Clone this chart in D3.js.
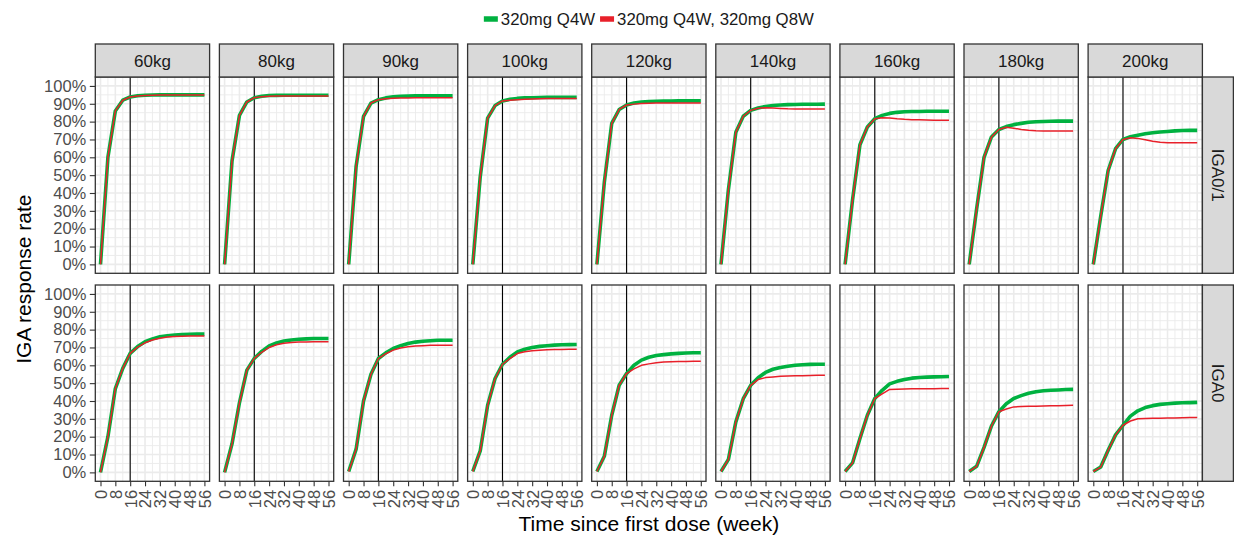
<!DOCTYPE html>
<html>
<head>
<meta charset="utf-8">
<script src="https://cdn.jsdelivr.net/npm/d3@7"></script>
<style>
  body { margin: 0; background: #ffffff; }
  svg { display: block; font-family: "Liberation Sans", Arial, sans-serif; }
</style>
</head>
<body>
<svg id="chart" width="1234" height="542"></svg>
<script>
// ---- data ----
const weeks = [0, 4, 8, 12, 16, 20, 24, 28, 32, 36, 40, 44, 48, 52, 56];
const weightGroups = ["60kg", "80kg", "90kg", "100kg", "120kg", "140kg", "160kg", "180kg", "200kg"];
const responseRows = ["IGA0/1", "IGA0"];
const regimens = ["320mg Q4W", "320mg Q4W, 320mg Q8W"];
const regimenColors = ["#00B140", "#E8202A"];
const xTickValues = [0, 8, 16, 24, 32, 40, 48, 56];
const yTickValues = [0, 10, 20, 30, 40, 50, 60, 70, 80, 90, 100];
const switchWeek = 16;

// IGA 0/1 response rate (%), one series per weight group
const iga01Q4W = [
  [0, 60, 86, 92, 93.8, 94.5, 94.8, 94.9, 95, 95, 95, 95, 95, 95, 95],
  [0, 58, 83.5, 91, 93.4, 94.2, 94.6, 94.7, 94.8, 94.8, 94.8, 94.8, 94.8, 94.8, 94.8],
  [0, 55, 83, 90.4, 92.3, 93.3, 93.9, 94.2, 94.3, 94.4, 94.4, 94.4, 94.4, 94.4, 94.4],
  [0, 49, 82, 89, 91.6, 92.5, 93, 93.3, 93.4, 93.5, 93.6, 93.6, 93.6, 93.6, 93.6],
  [0, 46, 79, 86.8, 89.3, 90.4, 91, 91.3, 91.4, 91.5, 91.5, 91.6, 91.6, 91.6, 91.6],
  [0, 42, 74, 83, 86.3, 87.6, 88.5, 89, 89.3, 89.5, 89.6, 89.7, 89.7, 89.7, 89.8],
  [0, 36, 67, 77, 81.6, 83.5, 84.6, 85.2, 85.5, 85.7, 85.7, 85.8, 85.8, 85.8, 85.8],
  [0, 31, 60, 71.4, 75.6, 77.2, 78.3, 79, 79.6, 79.9, 80.1, 80.2, 80.3, 80.3, 80.3],
  [0, 27, 52.6, 64.8, 70, 71.5, 72.4, 73.2, 73.8, 74.2, 74.5, 74.8, 75, 75.1, 75.1]
];
const iga01Q8W = [
  [0, 60, 86, 92, 93.8, 94.4, 94.7, 94.8, 94.9, 94.9, 94.9, 94.9, 94.9, 94.9, 94.9],
  [0, 58, 83.5, 91, 93.4, 94, 94.2, 94.3, 94.3, 94.3, 94.3, 94.3, 94.3, 94.3, 94.3],
  [0, 55, 83, 90.4, 92.3, 92.8, 93.1, 93.2, 93.3, 93.4, 93.4, 93.4, 93.4, 93.4, 93.4],
  [0, 49, 82, 89, 91.6, 92, 92.3, 92.5, 92.7, 92.8, 92.9, 92.9, 92.9, 92.9, 92.9],
  [0, 46, 79, 86.8, 89.3, 89.8, 90.2, 90.3, 90.4, 90.4, 90.4, 90.4, 90.4, 90.4, 90.4],
  [0, 42, 74, 83, 86.3, 87.5, 87.8, 87.6, 87.4, 87.2, 87.1, 87, 87, 87, 87],
  [0, 36, 67, 77, 81.6, 82.2, 82, 81.6, 81.3, 81.1, 81, 80.9, 80.8, 80.8, 80.8],
  [0, 31, 60, 71.4, 75.6, 76.8, 76.3, 75.6, 75.1, 74.9, 74.8, 74.7, 74.7, 74.7, 74.7],
  [0, 27, 52.6, 64.8, 70, 71, 70.6, 69.8, 69, 68.4, 68.1, 68.1, 68.1, 68.1, 68.1]
];

// IGA 0 response rate (%), one series per weight group
const iga0Q4W = [
  [0, 20, 47, 58.3, 66.7, 70.5, 73.2, 74.8, 76, 76.6, 77, 77.3, 77.4, 77.5, 77.5],
  [0, 16, 39, 57.3, 63.9, 67.8, 70.8, 72.5, 73.6, 74.2, 74.6, 74.8, 75, 75, 75],
  [0.5, 13, 40, 55, 63.8, 67, 69.4, 71, 72.2, 73, 73.5, 73.8, 74, 74, 74],
  [0.5, 12, 37.6, 52.6, 60.6, 64.5, 67.5, 69, 70, 70.6, 71, 71.3, 71.5, 71.6, 71.7],
  [0.5, 9, 32, 48.8, 55.4, 60, 62.9, 64.5, 65.5, 66, 66.4, 66.7, 66.9, 67, 67],
  [0.5, 7.3, 28.3, 41.3, 48.8, 53, 56, 57.8, 58.8, 59.5, 60, 60.3, 60.5, 60.6, 60.6],
  [0.5, 5.3, 19, 32, 41.4, 46, 49.6, 51, 52, 52.8, 53.2, 53.4, 53.5, 53.6, 53.7],
  [0.5, 3.4, 14, 26, 34, 38.5, 41.4, 43, 44.3, 45.2, 45.7, 46, 46.2, 46.4, 46.5],
  [0.5, 3, 12.4, 21, 26.4, 31.5, 34.5, 36.3, 37.4, 38.1, 38.5, 38.8, 39, 39.1, 39.2]
];
const iga0Q8W = [
  [0, 20, 47, 58.3, 66.7, 70.2, 72.6, 74.2, 75.2, 75.8, 76.1, 76.3, 76.4, 76.4, 76.4],
  [0, 16, 39, 57.3, 63.9, 67.3, 70, 71.5, 72.4, 72.8, 73, 73.1, 73.2, 73.2, 73.2],
  [0.5, 13, 40, 55, 63.8, 66.5, 68.5, 69.7, 70.4, 70.8, 71, 71.2, 71.3, 71.3, 71.3],
  [0.5, 12, 37.6, 52.6, 60.6, 63.8, 66.6, 67.6, 68.2, 68.5, 68.7, 68.8, 68.9, 69, 69],
  [0.5, 9, 32, 48.8, 55.4, 58, 60, 60.8, 61.4, 61.8, 62, 62.1, 62.2, 62.3, 62.3],
  [0.5, 7.3, 28.3, 41.3, 48.8, 52, 53.1, 53.5, 53.8, 54, 54.1, 54.2, 54.3, 54.4, 54.4],
  [0.5, 5.3, 19, 32, 41.4, 44, 46.5, 46.6, 46.7, 46.8, 46.8, 46.9, 46.9, 47, 47],
  [0.5, 3.4, 14, 26, 34, 35.5, 36.7, 36.9, 37, 37.1, 37.2, 37.3, 37.4, 37.5, 37.6],
  [0.5, 3, 12.4, 21, 26.4, 28.8, 30, 30.2, 30.3, 30.4, 30.5, 30.5, 30.6, 30.7, 30.7]
];

const rowSeries = [[iga01Q4W, iga01Q8W], [iga0Q4W, iga0Q8W]];

// ---- layout ----
const panelLeft0 = 95.3, panelStep = 124.1, panelW = 114.3;
const rowTops = [77, 285], panelH = 196.3;
const stripH = 33, stripW = 31;
const tickFont = 16.5, stripFont = 17, titleFont = 21, legendFont = 16.8;
const lineWidths = [3.6, 1.5];

const svg = d3.select("#chart");

// padded scales (5% expansion on each side)
const xSpan = d3.max(weeks) - d3.min(weeks);
const x = d3.scaleLinear()
  .domain([d3.min(weeks) - 0.05 * xSpan, d3.max(weeks) + 0.05 * xSpan])
  .range([0, panelW]);
const y = d3.scaleLinear()
  .domain([-5, 105])
  .range([panelH, 0]);

const xMinor = d3.range(4, 56, 8);
const yMinor = d3.range(5, 100, 10);

const line = d3.line()
  .x((d, i) => x(weeks[i]))
  .y(d => y(d));

responseRows.forEach((rowName, r) => {
  weightGroups.forEach((group, c) => {
    const left = panelLeft0 + c * panelStep;
    const top = rowTops[r];
    const g = svg.append("g").attr("transform", `translate(${left},${top})`);

    g.append("rect").attr("width", panelW).attr("height", panelH).attr("fill", "#ffffff");

    // grid
    const grid = g.append("g").attr("stroke", "#EBEBEB").attr("fill", "none");
    grid.selectAll(".vminor").data(xMinor).join("line")
      .attr("x1", d => x(d)).attr("x2", d => x(d))
      .attr("y1", 0).attr("y2", panelH).attr("stroke-width", 0.9);
    grid.selectAll(".hminor").data(yMinor).join("line")
      .attr("y1", d => y(d)).attr("y2", d => y(d))
      .attr("x1", 0).attr("x2", panelW).attr("stroke-width", 0.9);
    grid.selectAll(".vmajor").data(xTickValues).join("line")
      .attr("x1", d => x(d)).attr("x2", d => x(d))
      .attr("y1", 0).attr("y2", panelH).attr("stroke-width", 1.6);
    grid.selectAll(".hmajor").data(yTickValues).join("line")
      .attr("y1", d => y(d)).attr("y2", d => y(d))
      .attr("x1", 0).attr("x2", panelW).attr("stroke-width", 1.6);

    // dosing switch reference line
    g.append("line")
      .attr("x1", x(switchWeek)).attr("x2", x(switchWeek))
      .attr("y1", 0).attr("y2", panelH)
      .attr("stroke", "#000000").attr("stroke-width", 1.1);

    // regimen curves
    rowSeries[r].forEach((series, k) => {
      g.append("path")
        .attr("d", line(series[c]))
        .attr("fill", "none")
        .attr("stroke", regimenColors[k])
        .attr("stroke-width", lineWidths[k])
        .attr("stroke-linejoin", "round")
        .attr("stroke-linecap", "butt");
    });

    // panel border
    g.append("rect").attr("width", panelW).attr("height", panelH)
      .attr("fill", "none").attr("stroke", "#333333").attr("stroke-width", 1.3);

    // y axis on first column
    if (c === 0) {
      const ya = g.append("g").call(
        d3.axisLeft(y).tickValues(yTickValues).tickFormat(d => d + "%")
          .tickSize(5.5).tickPadding(3.5)
      );
      ya.select(".domain").remove();
      ya.selectAll("line").attr("stroke", "#333333").attr("stroke-width", 1.1);
      ya.selectAll("text").attr("fill", "#4D4D4D")
        .style("font-size", tickFont + "px").style("font-family", "Liberation Sans, Arial, sans-serif");
    }

    // x axis on bottom row
    if (r === responseRows.length - 1) {
      const xa = g.append("g").attr("transform", `translate(0,${panelH})`).call(
        d3.axisBottom(x).tickValues(xTickValues).tickSize(5).tickPadding(3)
      );
      xa.select(".domain").remove();
      xa.selectAll("line").attr("stroke", "#333333").attr("stroke-width", 1.1);
      xa.selectAll("text")
        .attr("fill", "#4D4D4D")
        .style("font-size", tickFont + "px").style("font-family", "Liberation Sans, Arial, sans-serif")
        .attr("transform", "rotate(-90)")
        .attr("text-anchor", "end")
        .attr("x", -8.5)
        .attr("y", 0)
        .attr("dy", "0.36em");
    }

    // top strip
    if (r === 0) {
      const s = svg.append("g").attr("transform", `translate(${left},${top - stripH})`);
      s.append("rect").attr("width", panelW).attr("height", stripH)
        .attr("fill", "#D9D9D9").attr("stroke", "#333333").attr("stroke-width", 1.3);
      s.append("text").attr("x", panelW / 2).attr("y", stripH / 2).attr("dy", "0.36em")
        .attr("text-anchor", "middle").attr("fill", "#1A1A1A")
        .style("font-size", stripFont + "px").text(group);
    }

    // right strip
    if (c === weightGroups.length - 1) {
      const s = svg.append("g").attr("transform", `translate(${left + panelW},${top})`);
      s.append("rect").attr("width", stripW).attr("height", panelH)
        .attr("fill", "#D9D9D9").attr("stroke", "#333333").attr("stroke-width", 1.3);
      s.append("text")
        .attr("transform", `translate(${stripW / 2},${panelH / 2}) rotate(90)`)
        .attr("dy", "0.36em").attr("text-anchor", "middle").attr("fill", "#1A1A1A")
        .style("font-size", stripFont + "px").text(rowName);
    }
  });
});

// axis titles
const plotLeft = panelLeft0;
const plotRight = panelLeft0 + (weightGroups.length - 1) * panelStep + panelW;
const plotCenterX = (plotLeft + plotRight) / 2;

svg.append("text")
  .attr("x", plotCenterX).attr("y", 531)
  .attr("text-anchor", "middle").attr("fill", "#000000")
  .style("font-size", titleFont + "px")
  .text("Time since first dose (week)");

svg.append("text")
  .attr("transform", `translate(31,${(rowTops[0] + rowTops[1] + panelH) / 2}) rotate(-90)`)
  .attr("text-anchor", "middle").attr("fill", "#000000")
  .style("font-size", titleFont + "px")
  .text("IGA response rate");

// legend
const legend = svg.append("g");
const keyW = 14, keyGap = 3, itemGap = 5, legendY = 19;
let cursor = 0;
const items = regimens.map((name, k) => {
  const item = legend.append("g");
  item.append("line").attr("x1", 0).attr("x2", keyW).attr("y1", 0).attr("y2", 0)
    .attr("stroke", regimenColors[k]).attr("stroke-width", 5.5);
  const t = item.append("text").attr("x", keyW + keyGap).attr("y", 0).attr("dy", "0.36em")
    .attr("fill", "#1A1A1A").style("font-size", legendFont + "px").text(name);
  const w = keyW + keyGap + t.node().getComputedTextLength();
  item.attr("data-w", w);
  const offset = cursor;
  cursor += w + itemGap;
  return { item, offset };
});
const legendW = cursor - itemGap;
const legendX = plotCenterX - legendW / 2;
items.forEach(({ item, offset }) => {
  item.attr("transform", `translate(${legendX + offset},${legendY})`);
});
</script>
</body>
</html>
